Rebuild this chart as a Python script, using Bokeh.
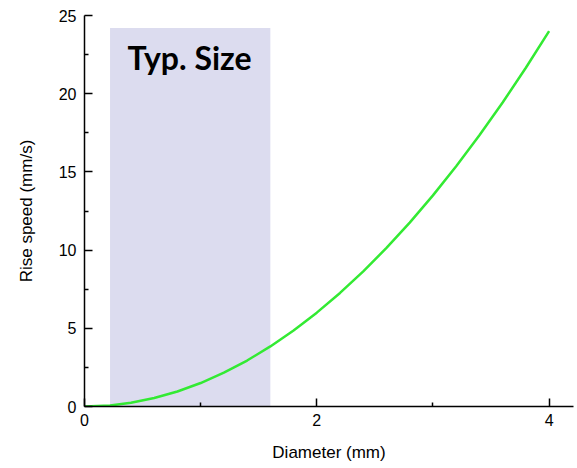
from bokeh.plotting import figure
from bokeh.models import Range1d, FixedTicker, Label
from bokeh.embed import file_html
from bokeh.resources import INLINE

# Data
diameter = [0.0, 0.22, 0.4, 0.6, 0.8, 1.0, 1.2, 1.4, 1.6, 1.8, 2.0, 2.2, 2.4, 2.6, 2.8, 3.0, 3.2, 3.4, 3.6, 3.8, 4.0]
speed = [0.0, 0.07, 0.24, 0.54, 0.96, 1.5, 2.16, 2.94, 3.84, 4.86, 6.0, 7.26, 8.64, 10.14, 11.76, 13.5, 15.36, 17.34, 19.44, 21.66, 24.0]
typ_lo, typ_hi = 0.22, 1.6
typ_top = 24.2
x_major = [0, 2, 4]
x_minor = [1, 3]
y_major = [0, 5, 10, 15, 20, 25]
y_minor = [2.5, 7.5, 12.5, 17.5, 22.5]

p = figure(width=577, height=468, output_backend="svg", toolbar_location=None,
           x_range=Range1d(0, 4.21), y_range=Range1d(0, 25),
           min_border_left=84, min_border_right=4, min_border_top=15, min_border_bottom=62)
p.outline_line_color = None
p.grid.visible = False
p.background_fill_color = "white"

p.quad(left=[typ_lo], right=[typ_hi], bottom=[0], top=[typ_top],
       fill_color="#dcdcef", line_color=None)
p.line(diameter, speed, line_color="#33ea33", line_width=2.5)

p.add_layout(Label(x=0.37, y=22.3, text="Typ. Size", text_font="Lato",
                   text_font_style="bold", text_font_size="32px",
                   text_color="black", text_baseline="middle"))

for ax in (p.xaxis[0], p.yaxis[0]):
    ax.axis_line_color = "black"
    ax.axis_line_width = 1.5
    ax.major_tick_line_color = "black"
    ax.minor_tick_line_color = "black"
    ax.major_tick_line_width = 1.5
    ax.minor_tick_line_width = 1.5
    ax.major_tick_in = 8
    ax.major_tick_out = 0
    ax.minor_tick_in = 4
    ax.minor_tick_out = 0
    ax.major_label_text_font = "Liberation Sans"
    ax.major_label_text_font_size = "16px"
    ax.major_label_text_color = "black"
    ax.axis_label_text_font = "Liberation Sans"
    ax.axis_label_text_font_size = "17px"
    ax.axis_label_text_font_style = "normal"
    ax.axis_label_text_color = "black"

p.xaxis.ticker = FixedTicker(ticks=x_major, minor_ticks=x_minor)
p.yaxis.ticker = FixedTicker(ticks=y_major, minor_ticks=y_minor)
p.xaxis.axis_label = "Diameter (mm)"
p.yaxis.axis_label = "Rise speed (mm/s)"
p.xaxis.major_label_standoff = 7
p.yaxis.major_label_standoff = 8
p.xaxis.axis_label_standoff = 14
p.yaxis.axis_label_standoff = 20

open("out.html", "w").write(file_html(p, INLINE))
